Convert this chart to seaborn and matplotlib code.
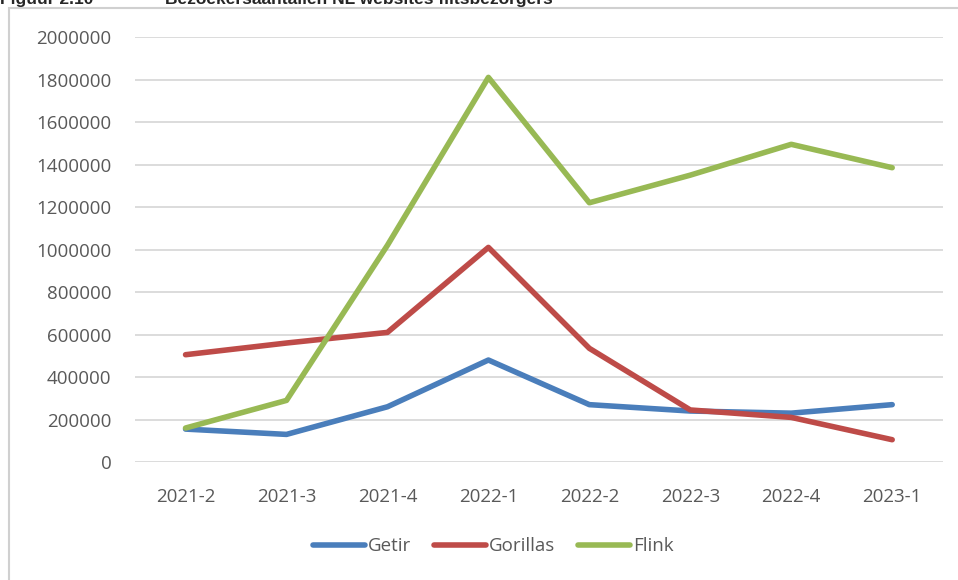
import numpy as np
import pandas as pd
import matplotlib
matplotlib.use('Agg')
import matplotlib.pyplot as plt
import seaborn as sns
from matplotlib.patches import Rectangle
from matplotlib.lines import Line2D

# Data (aflezen uit de figuur)
kwartalen = ['2021-2', '2021-3', '2021-4', '2022-1', '2022-2', '2022-3', '2022-4', '2023-1']
getir = [155000, 130000, 260000, 480000, 270000, 240000, 230000, 270000]
gorillas = [505000, 560000, 610000, 1010000, 535000, 245000, 210000, 105000]
flink = [160000, 290000, 1020000, 1810000, 1220000, 1350000, 1495000, 1385000]

merken = ['Getir', 'Gorillas', 'Flink']
kleuren = ['#4A7EBB', '#BE4B48', '#98B954']

df = pd.DataFrame({'Kwartaal': kwartalen, 'Getir': getir, 'Gorillas': gorillas, 'Flink': flink})
df_long = df.melt(id_vars='Kwartaal', var_name='Merk', value_name='Bezoekers')

sns.set_style('white')
plt.rcParams['font.family'] = ['Open Sans', 'DejaVu Sans']

fig = plt.figure(figsize=(9.58, 5.8), dpi=100)
ax = fig.add_axes([0.141, 0.2034, 0.843, 0.7328])

sns.lineplot(data=df_long, x='Kwartaal', y='Bezoekers', hue='Merk', hue_order=merken,
             palette=kleuren, linewidth=4, ax=ax, sort=False,
             solid_capstyle='round', solid_joinstyle='round', legend=False)

ax.set_xlim(-0.5, 7.5)
ax.set_ylim(0, 2000000)
ax.set_yticks(np.arange(0, 2000001, 200000))
ax.set_yticklabels([str(v) for v in range(0, 2000001, 200000)])
ax.grid(axis='y', color='#d9d9d9', linewidth=1.3)
ax.set_axisbelow(True)
for s in ax.spines.values():
    s.set_visible(False)
ax.tick_params(axis='both', length=0, labelsize=13.5, labelcolor='#595959')
ax.tick_params(axis='y', pad=17)
ax.tick_params(axis='x', pad=19)
ax.set_xlabel('')
ax.set_ylabel('')

# legenda onderaan
handles = [Line2D([0], [0], color=c, linewidth=4, solid_capstyle='round') for c in kleuren]
fig.legend(handles, merken, loc='center', bbox_to_anchor=(0.515, 0.058), ncol=3,
           frameon=False, fontsize=13.5, handlelength=2.8, handletextpad=0.15,
           columnspacing=1.2, labelcolor='#595959')

# kader rond de grafiek
fig.patches.append(Rectangle((9 / 958, -0.05), 1.2, 1 - 8 / 580 + 0.05, transform=fig.transFigure,
                             fill=False, edgecolor='#d0d0d0', linewidth=1.5, zorder=0))

# titel (bovenaan afgesneden)
fig.text(0.0, 1 - 4 / 580, 'Figuur 2.10', fontsize=12.5, fontweight='bold',
         family='Liberation Sans', va='baseline', ha='left')
fig.text(165 / 958, 1 - 4 / 580, 'Bezoekersaantallen NL websites flitsbezorgers', fontsize=12.5,
         fontweight='bold', family='Liberation Sans', va='baseline', ha='left')

fig.savefig('out.png', dpi=100)
